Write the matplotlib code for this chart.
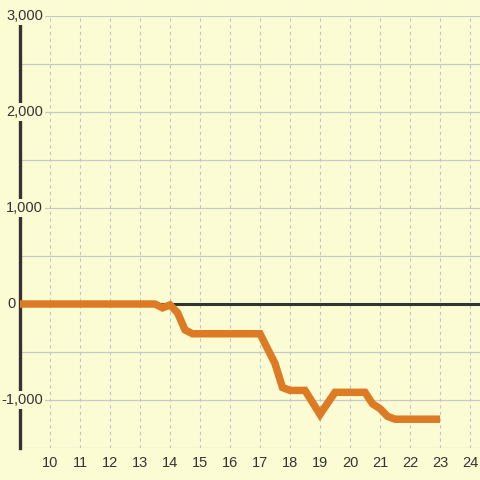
import matplotlib
matplotlib.use("Agg")
import matplotlib.pyplot as plt
from matplotlib.transforms import blended_transform_factory

plt.rcParams['font.family'] = ['Liberation Sans', 'DejaVu Sans']

# data
hours = [9.0, 13.5, 13.75, 14.0, 14.25, 14.5, 14.75, 17.0, 17.5, 17.75, 18.0,
         18.5, 19.0, 19.5, 20.5, 20.75, 21.0, 21.25, 21.5, 23.0]
values = [0, 0, -40, -10, -90, -270, -310, -310, -620, -870, -900,
          -900, -1150, -920, -920, -1040, -1090, -1170, -1200, -1200]
x_ticks = list(range(10, 25))
y_ticks = [-1000, 0, 1000, 2000, 3000]
y_grid = [-1500, -1000, -500, 0, 500, 1000, 1500, 2000, 2500, 3000]

BG = '#fcfcd4'
W = H = 480
fig = plt.figure(figsize=(4.8, 4.8), dpi=100, facecolor=BG)
ax = fig.add_axes([20 / W, 32 / H, 460 / W, 432 / H], facecolor=BG)
ax.set_xlim(9, 9 + 460 / 30)
ax.set_ylim(-1500, 3000)
for s in ax.spines.values():
    s.set_visible(False)

for g in y_grid:
    ax.axhline(g, color='#c8c8c8', lw=0.9, zorder=1)
for t in x_ticks:
    ax.axvline(t, color='#c4c4c4', lw=0.8, linestyle=(0, (3, 3)), zorder=1)

ax.axhline(0, color='#333333', lw=2.2, zorder=2)
ax.axvline(9, color='#333333', lw=2.4, zorder=2, clip_on=False)

ax.plot(hours, values, color='#dd7a24', lw=5.4, solid_joinstyle='miter',
        solid_capstyle='butt', zorder=4)

ax.set_xticks(x_ticks)
ax.set_xticklabels([str(t) for t in x_ticks])
ax.tick_params(axis='x', length=0, pad=5.5, labelsize=10.5, labelcolor='#333333')
ax.set_yticks([])

trans = blended_transform_factory(fig.transFigure, ax.transData)
for v in y_ticks:
    lab = f"{v:,}"
    if v == 0:
        ax.text(16 / W, v, lab, transform=trans, ha='right', va='center',
                fontsize=10.5, color='#333333', zorder=5)
    else:
        ax.text(43 / W, v, lab, transform=trans, ha='right', va='center',
                fontsize=10.5, color='#333333', zorder=5,
                bbox=dict(facecolor=BG, edgecolor='none', pad=1.2))

fig.savefig('out.png', dpi=100, facecolor=BG)
